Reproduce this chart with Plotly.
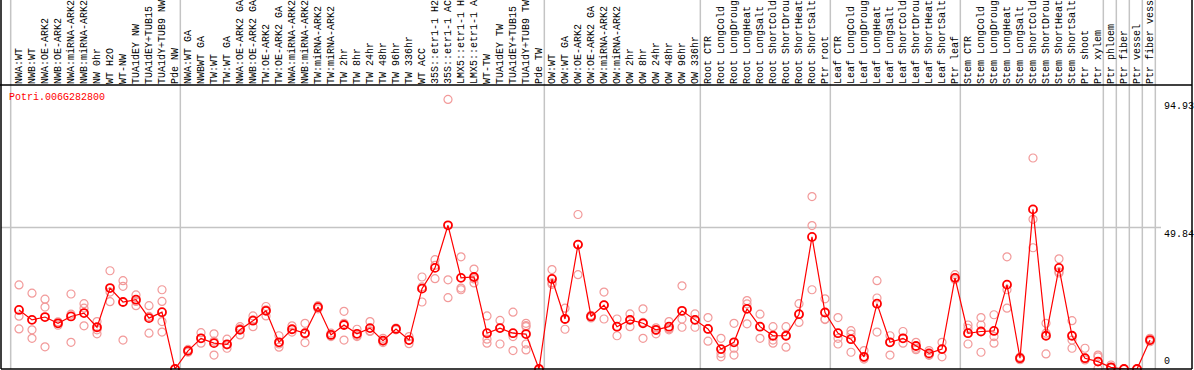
import plotly.graph_objects as go

labels = [
    "NWA:WT", "NWB:WT", "NWA:OE-ARK2", "NWB:OE-ARK2", "NWA:miRNA-ARK2", "NWB:miRNA-ARK2",
    "NW 0hr", "WT H2O", "WT-NW", "TUA1dEY NW", "TUA1dEY+TUB15 NW", "TUA1dY+TUB9 NW", "Pde NW",
    "NWA:WT GA", "NWBWT GA", "TW:WT", "TW:WT GA", "NWA:OE-ARK2 GA", "NWB:OE-ARK2 GA",
    "TW:OE-ARK2", "TW:OE-ARK2 GA", "NWA:miRNA-ARK2 GA", "NWB:miRNA-ARK2 GA", "TW:miRNA-ARK2",
    "TW:miRNA-ARK2 GA", "TW 2hr", "TW 8hr", "TW 24hr", "TW 48hr", "TW 96hr", "TW 336hr",
    "WT ACC", "35S::etr1-1 H2O", "35S::etr1-1 ACC", "LMX5::etr1-1 H2O", "LMX5::etr1-1 ACC",
    "WT-TW", "TUA1dEY TW", "TUA1dEY+TUB15 TW", "TUA1dY+TUB9 TW", "Pde TW",
    "OW:WT", "OW:WT GA", "OW:OE-ARK2", "OW:OE-ARK2 GA", "OW:miRNA-ARK2", "OW:miRNA-ARK2 GA",
    "OW 2hr", "OW 8hr", "OW 24hr", "OW 48hr", "OW 96hr", "OW 336hr",
    "Root CTR", "Root LongCold", "Root LongDrought", "Root LongHeat", "Root LongSalt",
    "Root ShortCold", "Root ShortDrought", "Root ShortHeat", "Root ShortSalt", "Ptr root",
    "Leaf CTR", "Leaf LongCold", "Leaf LongDrought", "Leaf LongHeat", "Leaf LongSalt",
    "Leaf ShortCold", "Leaf ShortDrought", "Leaf ShortHeat", "Leaf ShortSalt", "Ptr leaf",
    "Stem CTR", "Stem LongCold", "Stem LongDrought", "Stem LongHeat", "Stem LongSalt",
    "Stem ShortCold", "Stem ShortDrought", "Stem ShortHeat", "Stem ShortSalt",
    "Ptr shoot", "Ptr xylem", "Ptr phloem", "Ptr fiber", "Ptr vessel", "Ptr fiber vessel",
]

means = [
    20.8, 17.3, 18.3, 16.1, 18.5, 19.7, 14.7, 28.5, 23.6, 24.4, 17.9, 20.0, 0.0,
    6.4, 10.8, 9.1, 8.7, 13.8, 17.0, 20.5, 9.4, 14.0, 12.6, 21.8, 12.0, 15.5, 12.4,
    14.4, 10.0, 14.1, 10.2, 28.3, 35.6, 50.6, 32.1, 32.4, 12.6, 14.4, 12.6, 12.3, 0.0,
    31.7, 17.6, 43.8, 18.5, 22.5, 14.9, 17.3, 16.1, 13.8, 14.9, 20.5, 17.3,
    14.1, 7.0, 9.4, 21.2, 14.9, 11.7, 11.7, 19.3, 46.5, 19.9,
    12.6, 10.5, 4.3, 23.0, 9.4, 10.8, 8.1, 5.5, 7.0, 32.1,
    12.6, 13.2, 13.4, 29.7, 3.8, 56.2, 11.7, 35.6, 11.7, 3.8, 2.6, 0.6, 0.0, 0.0, 10.2,
]

replicates = [
    [29.6, 18.6, 14.1], [26.7, 13.8, 10.8], [24.6, 21.8, 7.8], [16.6, 16.0, 15.4],
    [26.4, 19.3, 9.4], [23.0, 21.4, 15.2], [16.7, 13.8, 12.4], [34.6, 27.1, 23.7],
    [31.1, 29.1, 10.2], [26.1, 23.8, 22.3], [22.3, 18.5, 12.6], [27.9, 23.8, 16.7, 13.0],
    [0.0, 0.0, 0.0],
    [6.9, 6.4, 5.9], [12.8, 10.8, 9.1], [12.4, 9.8, 4.9], [10.5, 8.5, 7.3],
    [14.9, 14.2, 12.0], [18.7, 17.3, 14.9], [22.0, 20.8, 18.7], [11.7, 8.8, 7.7],
    [15.2, 14.0, 13.0], [16.1, 12.4, 9.3], [22.3, 21.8, 21.2], [12.6, 12.0, 11.4],
    [20.3, 16.1, 10.2], [14.0, 11.8, 11.4], [16.7, 13.2, 13.4], [10.8, 9.8, 9.3],
    [14.4, 14.1, 13.8], [11.4, 10.2, 8.9], [32.4, 28.9, 23.6], [38.5, 36.5, 31.8],
    [94.93, 31.4, 25.1], [39.5, 28.5, 27.9], [35.2, 31.7, 30.3], [18.7, 10.5, 9.1],
    [17.1, 14.4, 8.8], [20.0, 11.4, 6.5], [16.1, 15.3, 14.9, 8.8, 6.7], [0.0, 0.0, 0.0],
    [35.0, 30.3, 29.8], [21.4, 17.6, 14.0], [54.4, 43.8, 33.2], [18.9, 18.5, 18.0],
    [27.1, 22.5, 17.6], [17.6, 14.9, 11.7], [19.4, 17.3, 14.9], [21.2, 16.4, 10.8],
    [14.5, 13.6, 12.4], [16.7, 14.2, 13.8], [29.3, 17.6, 14.7], [19.4, 17.3, 14.7],
    [18.1, 14.1, 9.8], [10.8, 5.5, 4.3], [16.1, 7.3, 4.9], [24.1, 22.9, 15.9],
    [19.3, 14.9, 10.8], [14.9, 10.2, 9.1], [14.9, 11.7, 7.7], [23.0, 19.3, 16.4],
    [60.7, 50.5, 27.9], [24.7, 17.6, 17.4],
    [18.1, 10.8, 8.8], [13.5, 12.3, 5.9], [6.5, 4.0, 3.5], [31.1, 25.0, 13.0],
    [11.7, 9.4, 4.9], [13.2, 10.8, 9.1], [9.4, 7.3, 6.8], [6.5, 5.0, 4.8],
    [9.4, 7.0, 4.3], [33.2, 32.1, 31.5],
    [15.5, 14.3, 8.8], [18.1, 15.5, 5.9], [19.1, 11.4, 9.1], [39.5, 27.9, 21.4],
    [4.2, 3.8, 3.3], [74.3, 52.7, 42.7], [16.1, 12.6, 5.3], [38.8, 33.8, 34.2],
    [17.0, 10.2, 7.3], [7.3, 3.8, 3.2], [4.9, 4.3, 0.2], [1.4, 0.6, 0.3],
    [0.0, 0.0, 0.0], [0.0, 0.0, 0.0], [10.8, 10.0, 9.6],
]

gene_id = "Potri.006G282800"
axis_labels = ["94.93", "49.84", "0"]
axis_values = [94.93, 49.84, 0.0]
group_ends = [12, 40, 52, 62, 72, 83, 84, 85, 86, 87]

FONT = "Liberation Mono"
W, H = 1194, 370
ML, MR, MT, MB = 1, 2, 85, 1
plot_h = H - MT - MB
top_ext = 1 + MT / plot_h

x_idx = list(range(len(labels)))
rep_x, rep_y = [], []
for i, reps in enumerate(replicates):
    for v in reps:
        rep_x.append(i)
        rep_y.append(v)

fig = go.Figure()
fig.add_trace(go.Scatter(
    x=rep_x, y=rep_y, mode="markers",
    marker=dict(symbol="circle-open", size=8, color="#F29A9A", line=dict(width=1.2)),
    hoverinfo="skip", showlegend=False, cliponaxis=False,
))
fig.add_trace(go.Scatter(
    x=x_idx, y=means, mode="lines+markers",
    line=dict(color="#FF0000", width=1.2),
    marker=dict(symbol="circle-open", size=8, color="#FF0000", line=dict(width=1.8)),
    hoverinfo="skip", showlegend=False, cliponaxis=False,
))

shapes = []
sep_positions = [-0.64] + [e + 0.41 for e in group_ends]
for p in sep_positions:
    shapes.append(dict(type="line", xref="x", yref="paper", x0=p, x1=p, y0=0, y1=top_ext,
                       line=dict(color="#C4C4C4", width=1.5), layer="below"))
plot_w = W - ML - MR
grid_end = (1161 - ML) / plot_w
shapes.append(dict(type="line", xref="paper", yref="y", x0=0, x1=grid_end,
                   y0=axis_values[1], y1=axis_values[1],
                   line=dict(color="#C4C4C4", width=1.5), layer="below"))
# frame
blk = dict(color="black", width=1.5)
shapes += [
    dict(type="line", xref="paper", yref="paper", x0=0, x1=0, y0=0, y1=top_ext, line=blk),
    dict(type="line", xref="paper", yref="paper", x0=1, x1=1, y0=0, y1=top_ext, line=blk),
    dict(type="line", xref="paper", yref="paper", x0=-1 / plot_w, x1=1, y0=1, y1=1, line=blk),
    dict(type="line", xref="paper", yref="paper", x0=0, x1=1, y0=0, y1=0, line=blk),
]

lab_x = (1162 - ML) / plot_w
annotations = [
    dict(text=gene_id, xref="paper", yref="paper", x=(7 - ML) / plot_w, y=(369 - 97) / plot_h,
         xanchor="left", yanchor="middle", showarrow=False,
         font=dict(family=FONT, size=10, color="#FF0000")),
]
for t, v in zip(axis_labels, axis_values):
    annotations.append(dict(text=t, xref="paper", yref="y", x=lab_x, y=v,
                            xanchor="left", yanchor="bottom" if v == 0 else "top",
                            showarrow=False, font=dict(family=FONT, size=10, color="black")))

x0 = (1 - 19) / 13
x1 = (W - MR - 19) / 13
fig.update_layout(
    width=W, height=H,
    margin=dict(l=ML, r=MR, t=MT, b=MB, pad=0, autoexpand=False),
    paper_bgcolor="white", plot_bgcolor="white",
    showlegend=False,
    xaxis=dict(
        range=[x0, x1], side="top", tickmode="array", tickvals=x_idx, ticktext=labels,
        tickangle=-90, ticks="", showgrid=False, zeroline=False, showline=False,
        tickfont=dict(family=FONT, size=10, color="black"), automargin=False,
        ticklabelstandoff=0,
    ),
    yaxis=dict(range=[0, 100], showticklabels=False, showgrid=False, zeroline=False,
               showline=False, ticks="", automargin=False),
    shapes=shapes,
    annotations=annotations,
    font=dict(family=FONT, size=10),
)

fig.write_html(
    "out.html",
    config={"displayModeBar": False},
    post_script=(
        "document.documentElement.style.margin='0';"
        "document.documentElement.style.padding='0';"
        "document.documentElement.style.overflow='hidden';"
        "document.body.style.margin='0';"
        "document.body.style.padding='0';"
        "document.body.style.overflow='hidden';"
    ),
)
